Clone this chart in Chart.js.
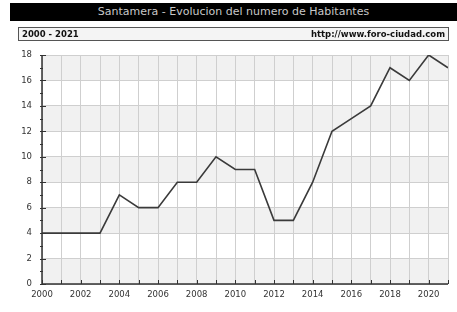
<!DOCTYPE html>
<html>
<head>
<meta charset="utf-8">
<script src="https://cdn.jsdelivr.net/npm/chart.js@4/dist/chart.umd.min.js"></script>
<style>
  html, body { margin: 0; padding: 0; background: #fff; }
  #wrap { position: relative; width: 457px; height: 312px; overflow: hidden; }
  #chart { position: absolute; left: 0; top: 0; }
  .bar {
    position: absolute; left: 10px; top: 3px; width: 447px; height: 18px;
    background: #000; color: #c8c8c8; font: 11px 'DejaVu Sans', sans-serif;
    text-align: center; line-height: 18px;
  }
  .sub {
    position: absolute; left: 18px; top: 27px; width: 429px; height: 12px;
    border: 1px solid #555; background: #f4f4f4;
    font: bold 8.5px 'DejaVu Sans', sans-serif; color: #111; line-height: 12px;
  }
  .sub span { position: absolute; top: 0; }
</style>
</head>
<body>
<div id="wrap">
  <canvas id="chart" width="457" height="312"></canvas>
  <div class="bar">Santamera - Evolucion del numero de Habitantes</div>
  <div class="sub"><span style="left:3px">2000 - 2021</span><span style="right:3px">http://www.foro-ciudad.com</span></div>
</div>
<script>
// Datos
const years = [2000, 2001, 2002, 2003, 2004, 2005, 2006, 2007, 2008, 2009, 2010,
               2011, 2012, 2013, 2014, 2015, 2016, 2017, 2018, 2019, 2020, 2021];
const habitantes = [4, 4, 4, 4, 7, 6, 6, 8, 8, 10, 9, 9, 5, 5, 8, 12, 13, 14, 17, 16, 18, 17];
const yTicks = [0, 2, 4, 6, 8, 10, 12, 14, 16, 18];

// Bandas grises y marcas de los ejes
const decor = {
  id: 'decor',
  beforeDraw(chart) {
    const { ctx, chartArea: a, scales: { y } } = chart;
    ctx.save();
    ctx.fillStyle = '#f1f1f1';
    for (let v = 0; v < 18; v += 4) {
      ctx.fillRect(a.left, y.getPixelForValue(v + 2), a.right - a.left, y.getPixelForValue(v) - y.getPixelForValue(v + 2));
    }
    ctx.restore();
  },
  afterDraw(chart) {
    const { ctx, chartArea: a, scales: { x, y } } = chart;
    ctx.save();
    ctx.strokeStyle = '#333';
    ctx.lineWidth = 1.5;
    ctx.beginPath();
    ctx.moveTo(a.left, a.top);
    ctx.lineTo(a.left, a.bottom);
    ctx.lineTo(a.right, a.bottom);
    ctx.stroke();
    ctx.lineWidth = 1;
    ctx.beginPath();
    years.forEach(yr => {
      const px = Math.round(x.getPixelForValue(yr)) + 0.5;
      ctx.moveTo(px, a.bottom);
      ctx.lineTo(px, a.bottom - 4);
    });
    for (let v = 0; v <= 18; v++) {
      const py = Math.round(y.getPixelForValue(v)) + 0.5;
      if (v % 2 === 0) { ctx.moveTo(a.left - 2, py); ctx.lineTo(a.left + 4, py); }
      else { ctx.moveTo(a.left - 2, py); ctx.lineTo(a.left + 1, py); }
    }
    ctx.stroke();
    ctx.restore();
  }
};

const chart = new Chart(document.getElementById('chart'), {
  type: 'line',
  data: {
    datasets: [{
      data: years.map((yr, i) => ({ x: yr, y: habitantes[i] })),
      borderColor: '#3a3a3a',
      borderWidth: 1.6,
      pointRadius: 0,
      tension: 0
    }]
  },
  options: {
    responsive: false,
    animation: false,
    layout: { padding: { top: 55, right: 9, left: 0, bottom: 0 } },
    plugins: { legend: { display: false }, tooltip: { enabled: false } },
    scales: {
      x: {
        type: 'linear', min: 2000, max: 2021,
        afterFit: s => { s.height = 28; },
        afterBuildTicks: s => { s.ticks = years.map(v => ({ value: v })); },
        grid: { color: '#cfcfcf', drawTicks: false },
        border: { display: false },
        ticks: {
          color: '#333', font: { family: 'DejaVu Sans', size: 8.5 },
          padding: 6, maxRotation: 0, autoSkip: false,
          callback: v => (v % 2 === 0 ? String(v) : '')
        }
      },
      y: {
        min: 0, max: 18,
        afterFit: s => { s.width = 42; },
        afterBuildTicks: s => { s.ticks = yTicks.map(v => ({ value: v })); },
        grid: { color: '#cfcfcf', drawTicks: false },
        border: { display: false },
        ticks: {
          color: '#333', font: { family: 'DejaVu Sans', size: 8.5 },
          padding: 10
        }
      }
    }
  },
  plugins: [decor]
});
</script>
</body>
</html>
